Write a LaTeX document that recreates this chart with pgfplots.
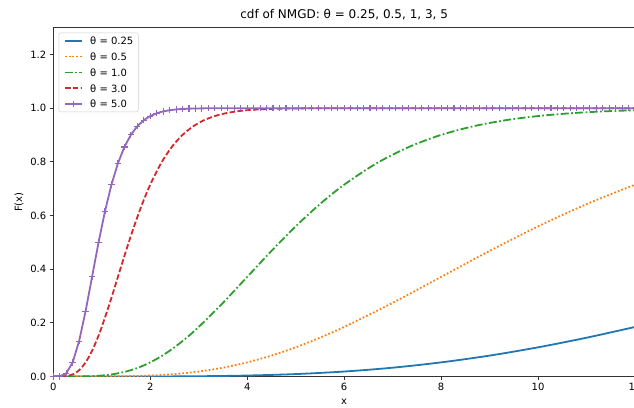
\documentclass[border=0pt]{standalone}
\usepackage{fontspec}
\setmainfont{DejaVu Sans}
\usepackage{pgfplots}
\pgfplotsset{compat=1.18}
\usetikzlibrary{calc}

\definecolor{c0}{HTML}{1F77B4}
\definecolor{c1}{HTML}{FF7F0E}
\definecolor{c2}{HTML}{2CA02C}
\definecolor{c3}{HTML}{D62728}
\definecolor{c4}{HTML}{9467BD}

\begin{document}
\begin{tikzpicture}
\begin{axis}[
    name=ax,
    scale only axis,
    width=582pt, height=349pt,
    xmin=0, xmax=12, ymin=0, ymax=1.3,
    xtick={0,2,...,12},
    ytick={0,0.2,...,1.2},
    yticklabel style={/pgf/number format/.cd, fixed, fixed zerofill, precision=1},
    /pgf/number format/assume math mode=true,
    tick label style={font=\fontsize{10}{12}\selectfont},
    tick align=outside,
    xtick pos=bottom, ytick pos=left,
    major tick length=3.5pt,
    tick style={black!80, line width=0.9pt},
    axis line style={black!80, line width=0.9pt},
    title={cdf of NMGD: θ = 0.25, 0.5, 1, 3, 5},
    title style={font=\fontsize{12}{14}\selectfont, yshift=-2pt},
    xlabel={x}, ylabel={F(x)},
    xlabel style={yshift=-1pt},
    label style={font=\fontsize{10}{12}\selectfont},
    legend cell align=left,
    legend style={
        at={(0,1)}, anchor=north west, xshift=5.4pt, yshift=-5pt,
        draw=black!20, rounded corners=2pt, fill=white,
        font=\fontsize{10}{12}\selectfont,
        inner xsep=5pt, inner ysep=4pt,
        row sep=8.4pt, column sep=7.5pt,
        nodes={inner sep=0pt, text height=7.5pt, text depth=0pt},
    },
    every axis plot/.append style={line width=1.8pt},
]
% theta = 0.25
\addplot[c0, smooth] coordinates {
    (0,0) (1,0.00001) (2,0.00017) (3,0.00107) (4,0.00366) (5,0.00912)
    (6,0.01858) (7,0.0329) (8,0.0527) (9,0.0780) (10,0.1088) (11,0.1446)
    (12,0.1847)
};
\addlegendentry{θ = 0.25}
% theta = 0.5
\addplot[c1, smooth, dash pattern=on 1.7pt off 2.1pt] coordinates {
    (0,0) (0.5,0.00001) (1,0.00017) (1.5,0.00107) (2,0.00366) (2.5,0.00912)
    (3,0.01858) (3.5,0.0329) (4,0.0527) (4.5,0.0780) (5,0.1088) (5.5,0.1446)
    (6,0.1847) (7,0.2746) (8,0.3712) (9,0.4679) (10,0.5595) (11,0.6425)
    (12,0.7149)
};
\addlegendentry{θ = 0.5}
% theta = 1
\addplot[c2, smooth, dash pattern=on 8pt off 2.4pt on 1.7pt off 2.4pt] coordinates {
    (0,0) (0.25,0.00001) (0.5,0.00017) (0.75,0.00107) (1,0.00366)
    (1.25,0.00912) (1.5,0.01858) (1.75,0.0329) (2,0.0527) (2.25,0.0780)
    (2.5,0.1088) (2.75,0.1446) (3,0.1847) (3.5,0.2746) (4,0.3712)
    (4.5,0.4679) (5,0.5595) (5.5,0.6425) (6,0.7149) (6.6667,0.7944)
    (7.3333,0.8553) (8,0.9004) (8.6667,0.9327) (9.3333,0.9553) (10,0.9707)
    (10.6667,0.9811) (11.3333,0.9880) (12,0.9924)
};
\addlegendentry{θ = 1.0}
% theta = 3
\addplot[c3, smooth, dash pattern=on 5.5pt off 2.4pt] coordinates {
    (0,0) (0.0833,0.00001) (0.1667,0.00017) (0.25,0.00107) (0.3333,0.00366)
    (0.4167,0.00912) (0.5,0.01858) (0.5833,0.0329) (0.6667,0.0527)
    (0.75,0.0780) (0.8333,0.1088) (0.9167,0.1446) (1,0.1847) (1.1667,0.2746)
    (1.3333,0.3712) (1.5,0.4679) (1.6667,0.5595) (1.8333,0.6425) (2,0.7149)
    (2.2222,0.7944) (2.4444,0.8553) (2.6667,0.9004) (2.8889,0.9327)
    (3.1111,0.9553) (3.3333,0.9707) (3.5556,0.9811) (3.7778,0.9880)
    (4,0.9924) (4.2222,0.9953) (4.4444,0.9971) (4.6667,0.9982)
    (4.8889,0.9989) (5.3333,0.9996) (6,1) (12,1)
};
\addlegendentry{θ = 3.0}
% theta = 5
\addplot[c4, mark=+, mark size=3.2pt, mark options={solid, line width=1.1pt}] coordinates {
    (0,0) (0.1333,0.0006) (0.2667,0.0118) (0.4,0.0527) (0.5333,0.1322)
    (0.6667,0.2435) (0.8,0.3712) (0.9333,0.4992) (1.0667,0.6159) (1.2,0.7149)
    (1.3333,0.7944) (1.4667,0.8553) (1.6,0.9004) (1.7333,0.9327)
    (1.8667,0.9553) (2,0.9707) (2.1333,0.9811) (2.2667,0.9880) (2.4,0.9924)
    (2.5333,0.9953) (2.6667,0.9971) (2.8,0.9982) (2.9333,0.9989)
    (3.0667,0.9993) (3.2,0.9996)
    (3.3333,1) (3.4667,1) (3.6,1) (3.7333,1) (3.8667,1) (4,1) (4.1333,1)
    (4.2667,1) (4.4,1) (4.5333,1) (4.6667,1) (4.8,1) (4.9333,1) (5.0667,1)
    (5.2,1) (5.3333,1) (5.4667,1) (5.6,1) (5.7333,1) (5.8667,1) (6,1)
    (6.1333,1) (6.2667,1) (6.4,1) (6.5333,1) (6.6667,1) (6.8,1) (6.9333,1)
    (7.0667,1) (7.2,1) (7.3333,1) (7.4667,1) (7.6,1) (7.7333,1) (7.8667,1)
    (8,1) (8.1333,1) (8.2667,1) (8.4,1) (8.5333,1) (8.6667,1) (8.8,1)
    (8.9333,1) (9.0667,1) (9.2,1) (9.3333,1) (9.4667,1) (9.6,1) (9.7333,1)
    (9.8667,1) (10,1) (10.1333,1) (10.2667,1) (10.4,1) (10.5333,1)
    (10.6667,1) (10.8,1) (10.9333,1) (11.0667,1) (11.2,1) (11.3333,1)
    (11.4667,1) (11.6,1) (11.7333,1) (11.8667,1) (12,1)
};
\addlegendentry{θ = 5.0}
\coordinate (ll) at (rel axis cs:0,0);
\coordinate (ur) at (rel axis cs:1,1);
\end{axis}
\pgfresetboundingbox
\useasboundingbox ([xshift=-53.3pt,yshift=-30.7pt]ll) rectangle ([xshift=-1pt,yshift=27.7pt]ur);
\end{tikzpicture}
\end{document}
